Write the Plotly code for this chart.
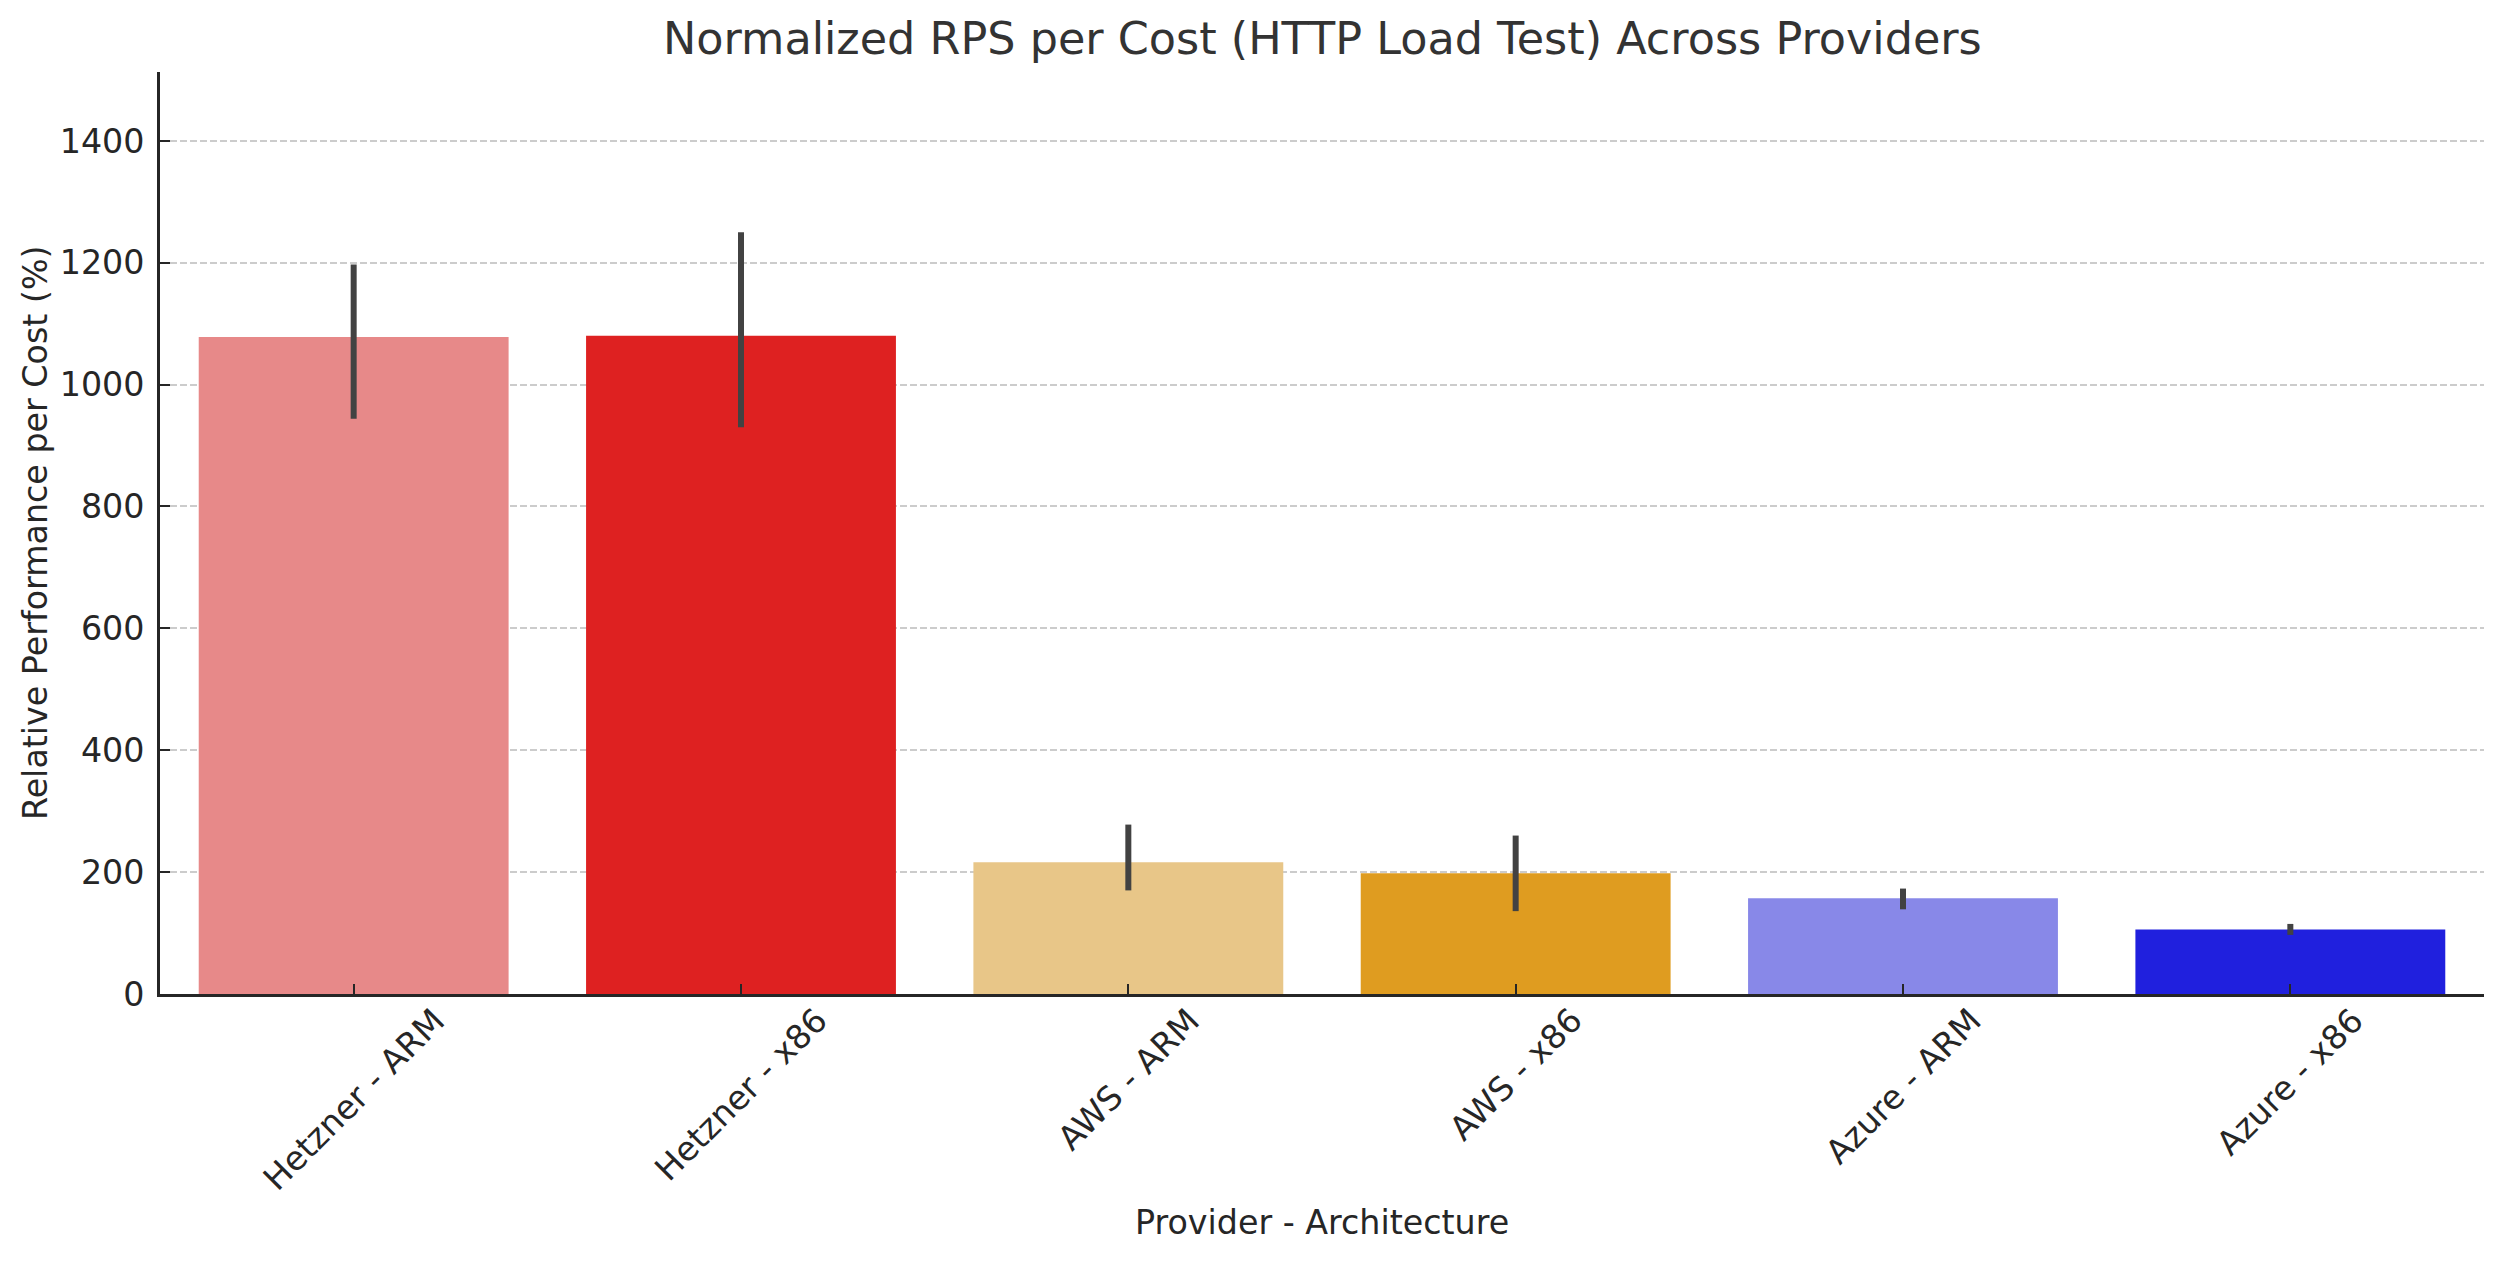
import plotly.graph_objects as go

categories = ["Hetzner - ARM", "Hetzner - x86", "AWS - ARM", "AWS - x86", "Azure - ARM", "Azure - x86"]
values = [1078, 1080, 216, 198, 157, 106]
ci_high = [1197, 1250, 278, 260, 173, 115]
ci_low = [944, 930, 170, 136, 139, 97]
colors = ["#E78989", "#DE2121", "#E8C688", "#DF9C20", "#8888E8", "#2020DE"]
y_ticks = [0, 200, 400, 600, 800, 1000, 1200, 1400]

FONT = "DejaVu Sans"
LBL = 33.3
x_idx = list(range(len(categories)))

fig = go.Figure()
fig.add_trace(go.Bar(
    x=x_idx,
    y=values,
    width=0.8,
    marker=dict(color=colors, line=dict(width=0)),
    error_y=dict(
        type="data",
        symmetric=False,
        array=[h - v for h, v in zip(ci_high, values)],
        arrayminus=[v - l for v, l in zip(values, ci_low)],
        color="#424242",
        thickness=6,
        width=0,
    ),
    showlegend=False,
))

annotations = []
for i, c in enumerate(categories):
    annotations.append(dict(
        x=i, y=0, xref="x", yref="paper",
        text=c, textangle=-45, showarrow=False,
        xanchor="center", yanchor="top", yshift=-4,
        font=dict(family=FONT, size=LBL, color="#262626"),
    ))

annotations.append(dict(
    x=0.5, y=1.0, xref="paper", yref="paper",
    text="Normalized RPS per Cost (HTTP Load Test) Across Providers",
    showarrow=False, xanchor="center", yanchor="middle", yshift=34,
    font=dict(family=FONT, size=44.5, color="#333333"),
))
annotations.append(dict(
    x=0.5, y=0, xref="paper", yref="paper",
    text="Provider - Architecture",
    showarrow=False, xanchor="center", yanchor="middle", yshift=-228,
    font=dict(family=FONT, size=LBL, color="#262626"),
))
annotations.append(dict(
    x=0, y=0.5, xref="paper", yref="paper",
    text="Relative Performance per Cost (%)", textangle=-90,
    showarrow=False, xanchor="center", yanchor="middle", xshift=-125,
    font=dict(family=FONT, size=LBL, color="#262626"),
))

# page body has an 8px margin; size/margins compensate for it
fig.update_layout(
    width=2495, height=1253, autosize=False,
    margin=dict(l=152, r=19, t=64, b=267),
    paper_bgcolor="white", plot_bgcolor="white",
    font=dict(family=FONT, color="#262626"),
    annotations=annotations,
    bargap=0.2,
)
fig.update_xaxes(
    range=[-0.5, 5.5],
    tickvals=x_idx, ticktext=[""] * len(categories),
    ticks="inside", ticklen=10, tickwidth=2, tickcolor="#262626",
    showline=True, linewidth=2.7, linecolor="#262626",
    showgrid=False, zeroline=False,
)
fig.update_yaxes(
    range=[0, 1513],
    tickvals=y_ticks,
    ticks="inside", ticklen=10, tickwidth=2, tickcolor="#262626",
    tickfont=dict(family=FONT, size=LBL, color="#262626"),
    ticklabelstandoff=6,
    showline=True, linewidth=2.7, linecolor="#262626",
    showgrid=True, gridcolor="#cccccc", gridwidth=2, griddash="7px,3px",
    zeroline=False,
)

fig.write_html("out.html")
